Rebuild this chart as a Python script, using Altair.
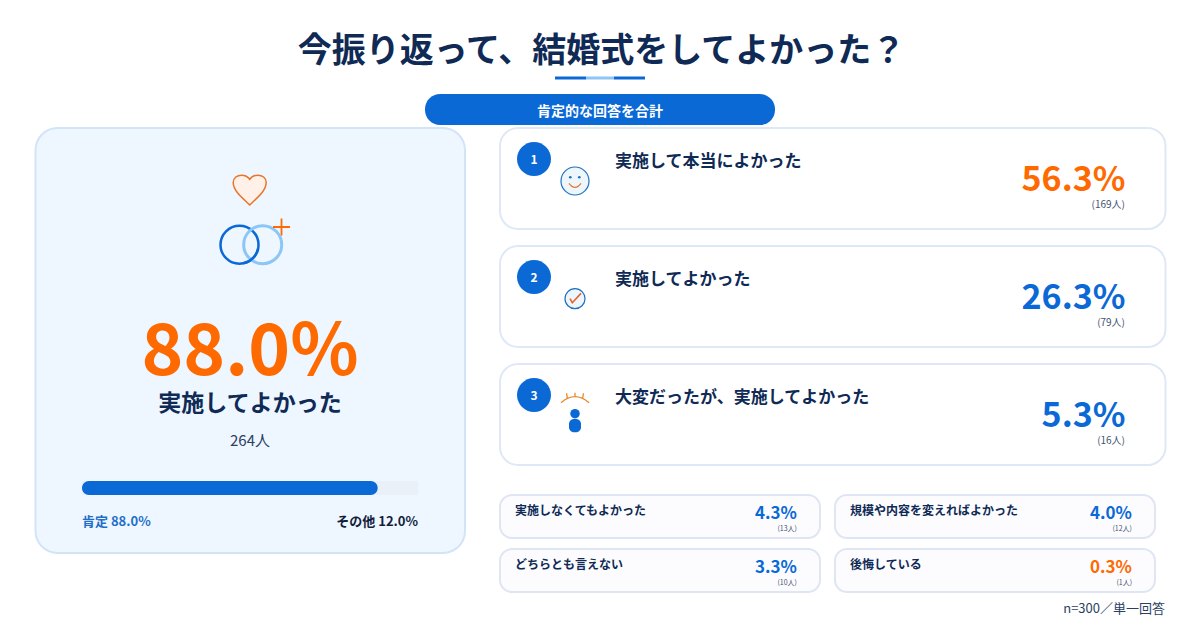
"""Survey infographic: was holding a wedding worth it?"""

import altair as alt
import pandas as pd

# Survey data
TITLE = "今振り返って、結婚式をしてよかった？"
BANNER = "肯定的な回答を合計"
NOTE = "n=300／単一回答"

TOTAL_LABEL = "実施してよかった"
TOTAL_PCT = 88.0
TOTAL_COUNT = 264
OTHER_PCT = 12.0

TOP_LABELS = ["実施して本当によかった", "実施してよかった", "大変だったが、実施してよかった"]
TOP_PCTS = [56.3, 26.3, 5.3]
TOP_COUNTS = [169, 79, 16]

SMALL_LABELS = ["実施しなくてもよかった", "規模や内容を変えればよかった", "どちらとも言えない", "後悔している"]
SMALL_PCTS = [4.3, 4.0, 3.3, 0.3]
SMALL_COUNTS = [13, 12, 10, 1]

# Styling
FONT = "Noto Sans CJK JP"
NAVY = "#0f2a55"
BLUE = "#0b69d6"
LIGHT_BLUE = "#8cc6f7"
ORANGE = "#ff6a00"
GREY_TEXT = "#44546f"
CARD_STROKE = "#dfe8f6"

WIDTH = 1184
HEIGHT = 614

# The whole picture is laid out in screenshot pixels, the page margin is 8px
X_SCALE = alt.Scale(domain=[8, 8 + WIDTH])
Y_SCALE = alt.Scale(domain=[8 + HEIGHT, 8])
BAR_SCALE = alt.Scale(domain=[0, 100], range=[74, 410])

HEART = ("M0,0.9 C-0.3,0.6 -1,0.1 -1,-0.45 C-1,-0.75 -0.75,-0.9 -0.5,-0.9 "
         "C-0.25,-0.9 -0.1,-0.8 0,-0.65 C0.1,-0.8 0.25,-0.9 0.5,-0.9 "
         "C0.75,-0.9 1,-0.75 1,-0.45 C1,0.1 0.3,0.6 0,0.9 Z")
PLUS = "M-1,0 L1,0 M0,-1 L0,1"
RING_OVERLAP = "M0.2,0.98 A1,1 0 0 0 0.98,0.2"
SMILE = "M-1,0.05 Q0,1.39 1,0.05"
CHECK = "M-0.83,0 L-0.45,0.67 L1,-0.88"
LASHES = ("M-1,0.19 Q0,-0.67 1,0.19 M-0.6,-0.48 L-0.55,-0.12 M0,-0.52 L0,-0.24 "
          "M0.6,-0.48 L0.55,-0.12")


def box(x0, y0, x1, y1, fill, stroke=None, stroke_width=0, radius=0):
    df = pd.DataFrame({"x0": [x0], "x1": [x1], "y0": [y0], "y1": [y1]})
    mark = {"fill": fill, "cornerRadius": radius}
    if stroke:
        mark.update(stroke=stroke, strokeWidth=stroke_width)
    return alt.Chart(df).mark_rect(**mark).encode(
        x=alt.X("x0:Q", scale=X_SCALE, axis=None),
        x2="x1:Q",
        y=alt.Y("y0:Q", scale=Y_SCALE, axis=None),
        y2="y1:Q",
    )


def label(x, y, text, size, color=NAVY, align="center", weight="bold"):
    df = pd.DataFrame({"x": [x], "y": [y], "text": [text]})
    return alt.Chart(df).mark_text(
        font=FONT, fontSize=size, fontWeight=weight, color=color,
        align=align, baseline="middle",
    ).encode(
        x=alt.X("x:Q", scale=X_SCALE, axis=None),
        y=alt.Y("y:Q", scale=Y_SCALE, axis=None),
        text="text:N",
    )


def icon(x, y, shape, size, stroke=None, fill=None, stroke_width=1.5):
    df = pd.DataFrame({"x": [x], "y": [y]})
    mark = {"shape": shape, "size": size, "opacity": 1, "strokeWidth": stroke_width,
            "filled": fill is not None}
    mark["stroke"] = stroke if stroke else "transparent"
    if fill:
        mark["fill"] = fill
    return alt.Chart(df).mark_point(**mark).encode(
        x=alt.X("x:Q", scale=X_SCALE, axis=None),
        y=alt.Y("y:Q", scale=Y_SCALE, axis=None),
    )


def pct_color(value):
    # highest and lowest answers are the orange ones
    all_pcts = TOP_PCTS + SMALL_PCTS
    return ORANGE if value in (max(all_pcts), min(all_pcts)) else BLUE


layers = []

# Header
layers.append(label(601.5, 52, TITLE, 34))
layers.append(box(555, 76.5, 586, 79.5, BLUE))
layers.append(box(614, 76.5, 645, 79.5, BLUE))
layers.append(box(586, 76.5, 614, 79.5, LIGHT_BLUE))
layers.append(box(425, 94, 775, 125, BLUE, radius=15))
layers.append(label(600, 112, BANNER, 14, color="white"))

# Left summary card
layers.append(box(35.5, 128, 465, 553, "#eef6ff", "#d3e4f9", 2, 22))
layers.append(icon(249.7, 190, HEART, 1089, "#e8752a", "#fff0e8", 1.5))
layers.append(icon(239.5, 244.7, "circle", 1444, BLUE, None, 2.5))
layers.append(icon(262.7, 244.7, "circle", 1444, LIGHT_BLUE, None, 3))
layers.append(icon(239.5, 244.7, RING_OVERLAP, 1444, BLUE, None, 2.5))
layers.append(icon(281.5, 227, PLUS, 289, ORANGE, None, 1.8))
layers.append(label(250, 354, f"{TOTAL_PCT:.1f}%", 71, color=ORANGE))
layers.append(label(250, 403.5, TOTAL_LABEL, 23))
layers.append(label(250, 441, f"{TOTAL_COUNT}人", 15, color="#2a3f62", weight="normal"))

# Share bar, on its own 0-100 scale
bar_df = pd.DataFrame({"start": [0, 0], "end": [100, TOTAL_PCT], "part": ["track", "share"]})
for part, fill, radius in [("track", "#e9f0f8", 0), ("share", BLUE, 7)]:
    layers.append(
        alt.Chart(bar_df[bar_df["part"] == part]).mark_rect(fill=fill, cornerRadius=radius).encode(
            x=alt.X("start:Q", scale=BAR_SCALE, axis=None),
            x2="end:Q",
            y=alt.value(481 - 8),
            y2=alt.value(495 - 8),
        )
    )
layers.append(label(82, 521.5, f"肯定 {TOTAL_PCT:.1f}%", 13, color="#1f6fc9", align="left"))
layers.append(label(418, 521.5, f"その他 {OTHER_PCT:.1f}%", 13, color="#111f3d", align="right"))

# Top three answers
for i, (name, pct, count) in enumerate(zip(TOP_LABELS, TOP_PCTS, TOP_COUNTS)):
    top = 128 + i * 118
    layers.append(box(500, top, 1165.5, top + 101, "white", CARD_STROKE, 2, 18))
    layers.append(box(517, top + 14, 551, top + 48, BLUE, radius=17))
    layers.append(label(534, top + 32, str(i + 1), 12, color="white"))
    layers.append(label(615, top + 34, name, 17, align="left"))
    layers.append(label(1125.5, top + 53, f"{pct:.1f}%", 34, color=pct_color(pct), align="right"))
    layers.append(label(1125, top + 77, f"({count}人)", 10, color=GREY_TEXT, align="right", weight="normal"))

# Smile icon
layers.append(icon(575, 181, "circle", 784, "#1f6fc0", "#eef6fd", 1.2))
layers.append(icon(570.3, 177.3, "circle", 7, None, "#1f6fc0"))
layers.append(icon(579.3, 177.3, "circle", 7, None, "#1f6fc0"))
layers.append(icon(575, 183, SMILE, 144, "#e8752a", None, 1.3))
# Check icon
layers.append(icon(575, 298.7, "circle", 400, "#1f6fc0", "#eef6fd", 1.2))
layers.append(icon(575, 298.7, CHECK, 144, "#e8632a", None, 1.6))
# Eye and person icon
layers.append(icon(575, 400, LASHES, 784, "#e8872a", None, 1.3))
layers.append(icon(575, 413.7, "circle", 90, None, BLUE))
layers.append(box(569, 419, 581, 432.3, BLUE, radius=5))

# Smaller answers, two columns
for i, (name, pct, count) in enumerate(zip(SMALL_LABELS, SMALL_PCTS, SMALL_COUNTS)):
    left = 500 + (i % 2) * 335
    top = 495 + (i // 2) * 54
    layers.append(box(left, top, left + 320, top + 43, "#fcfcff", "#dfe6f3", 2, 12))
    layers.append(label(left + 15, top + 16, name, 12, align="left"))
    layers.append(label(left + 297, top + 19, f"{pct:.1f}%", 17, color=pct_color(pct), align="right"))
    layers.append(label(left + 297, top + 34, f"({count}人)", 7, color=GREY_TEXT, align="right", weight="normal"))

layers.append(label(1165, 608.5, NOTE, 13, color="#2a3f62", align="right", weight="normal"))

chart = alt.layer(*layers).resolve_scale(x="independent").properties(
    width=WIDTH, height=HEIGHT, padding=0, background="white"
).configure_view(strokeWidth=0)

chart.save("out.html", embed_options={"renderer": "svg", "actions": False})
